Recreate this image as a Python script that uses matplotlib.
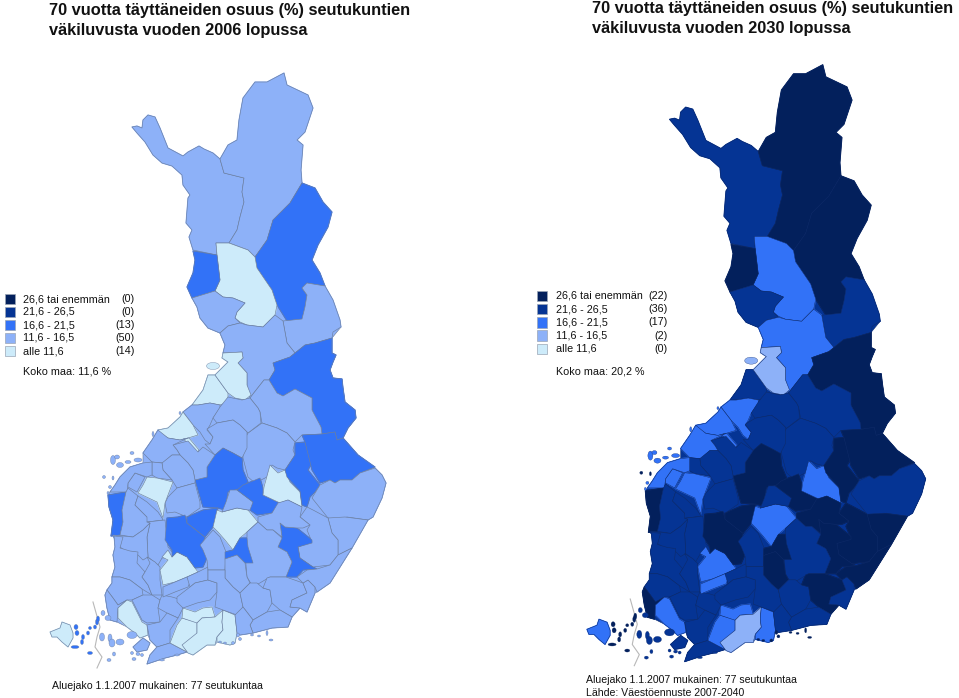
import matplotlib
matplotlib.use("Agg")
import matplotlib.pyplot as plt
from matplotlib.collections import PolyCollection
from matplotlib.colors import ListedColormap, BoundaryNorm
from matplotlib.patches import Ellipse, Rectangle, Polygon
from matplotlib.transforms import Affine2D

plt.rcParams['font.family'] = ['Liberation Sans', 'DejaVu Sans']

# ---- data ----
titles_2006 = ["70 vuotta täyttäneiden osuus (%) seutukuntien", "väkiluvusta vuoden 2006 lopussa"]
titles_2030 = ["70 vuotta täyttäneiden osuus (%) seutukuntien", "väkiluvusta vuoden 2030 lopussa"]
legend_labels = ["26,6 tai enemmän", "21,6 - 26,5", "16,6 - 21,5", "11,6 - 16,5", "alle 11,6"]
counts_2006 = [0, 0, 13, 50, 14]
counts_2030 = [22, 36, 17, 2, 0]
national_2006 = "Koko maa: 11,6 %"
national_2030 = "Koko maa: 20,2 %"
note_2006 = ["Aluejako 1.1.2007 mukainen: 77 seutukuntaa"]
note_2030 = ["Aluejako 1.1.2007 mukainen: 77 seutukuntaa", "Lähde: Väestöennuste 2007-2040"]
class_bounds = [0, 11.55, 16.55, 21.55, 26.55, 40]
class_colors = ['#CDEBFA', '#8DB1F8', '#3272F7', '#053494', '#03205C']

# southern mainland silhouette under the regions
mainland = [(192,298),(197,307),(200,318),(208,328),(220,333),(225,345),(223,353),(222,358),(228,362),(222,368),(215,375),(208,375),(203,390),(192,405),(183,412),(180,417),(168,428),(158,430),(152,440),(143,453),(143,463),(130,467),(120,477),(115,485),(110,492),(108,495),(109,507),(113,520),(111,536),(114,536),(115,547),(113,555),(115,567),(112,577),(112,583),(107,590),(105,595),(107,608),(110,620),(117,622),(127,627),(135,633),(140,638),(148,635),(150,640),(157,647),(150,655),(147,664),(153,662),(165,658),(177,655),(187,652),(193,655),(207,645),(215,645),(217,642),(230,645),(235,643),(237,633),(240,635),(253,633),(272,628),(288,627),(292,617),(300,608),(307,612),(315,593),(317,592),(330,583),(352,548),(368,520),(373,517),(382,498),(386,483),(382,475),(375,468),(358,455),(343,438),(348,428),(356,418),(355,410),(345,402),(343,388),(342,379),(333,378),(330,370),(333,362),(336,355),(332,353),(332,338),(341,327),(325,286)]

outlines = {
 'A': [(132,127),(137,126),(142,128),(143,120),(148,115),(155,117),(160,128),(168,148),(183,156),(188,152),(199,146),(204,149),(213,153),(220,159),(224,173),(244,178),(242,192),(244,202),(240,217),(237,230),(229,243),(216,243),(217,255),(193,250),(189,237),(192,230),(186,223),(188,198),(190,195),(183,185),(182,175),(172,166),(162,163),(153,155),(145,142),(137,133)],
 'B': [(220,159),(228,145),(237,140),(239,120),(243,98),(255,82),(267,82),(284,73),(287,85),(308,95),(313,108),(305,132),(297,140),(303,145),(301,170),(302,183),(290,203),(273,220),(267,240),(255,257),(248,250),(229,243),(237,230),(240,217),(244,202),(242,192),(244,178),(224,173)],
 'C': [(302,183),(315,188),(323,202),(332,212),(328,227),(318,245),(312,260),(320,273),(325,286),(307,283),(302,288),(307,295),(305,307),(302,319),(287,321),(277,305),(272,290),(257,268),(255,257),(267,240),(273,220),(290,203)],
 'D': [(216,243),(229,243),(248,250),(255,257),(257,268),(272,290),(277,305),(275,315),(263,327),(247,325),(240,322),(235,318),(237,312),(245,303),(233,298),(223,297),(215,291),(220,280),(217,255)],
 'E': [(193,251),(217,255),(220,280),(215,291),(192,298),(187,287),(193,273),(195,260)],
 'F': [(192,298),(215,291),(223,297),(233,298),(245,303),(237,312),(235,318),(240,323),(228,326),(220,333),(208,328),(200,318),(197,307)],
 'G': [(302,288),(307,283),(325,286),(333,300),(340,320),(341,327),(333,332),(332,338),(315,343),(305,345),(295,353),(287,343),(283,321),(302,319),(305,307),(307,295)],
 'H': [(220,333),(228,326),(240,323),(247,325),(263,327),(275,315),(283,321),(287,343),(295,353),(290,357),(273,363),(275,370),(269,380),(264,380),(253,394),(250,398),(247,385),(247,373),(238,363),(243,358),(242,352),(223,353),(225,345)],
 'I': [(295,353),(305,345),(315,343),(332,338),(332,353),(336,355),(333,362),(330,370),(333,378),(342,379),(343,388),(345,402),(355,410),(356,418),(348,428),(343,438),(337,440),(335,432),(322,434),(321,427),(312,410),(312,398),(295,389),(283,396),(277,393),(269,380),(275,370),(273,363),(290,357)],
 'J': [(269,380),(277,393),(283,396),(295,389),(312,398),(312,410),(321,427),(322,434),(302,435),(295,442),(287,433),(277,428),(262,423),(260,412),(258,408),(250,398),(253,394),(264,380)],
 'K': [(262,423),(277,428),(287,433),(295,442),(293,450),(295,455),(285,470),(277,468),(272,465),(267,477),(255,483),(248,477),(243,458),(243,442),(248,433)],
 'L1': [(192,405),(203,390),(208,375),(215,375),(228,393),(228,402),(220,405),(210,403),(198,405)],
 'L2': [(223,353),(242,352),(243,358),(238,363),(247,373),(247,385),(251,395),(245,400),(235,398),(228,393),(215,375),(222,368),(228,362),(222,358)],
 'M': [(183,412),(192,405),(198,405),(210,403),(220,405),(220,408),(213,418),(210,425),(207,430),(213,437),(210,444),(205,440),(200,432),(193,425)],
 'N': [(158,430),(168,428),(180,417),(183,412),(193,425),(198,435),(188,438),(180,440),(168,438),(160,433)],
 'N2': [(183,439),(189,438),(199,450),(197,453),(188,443)],
 'O': [(220,407),(228,397),(242,400),(250,398),(258,408),(260,412),(261,423),(248,433),(247,432),(240,425),(233,420),(217,423),(213,418)],
 'P': [(217,423),(233,420),(240,425),(247,432),(247,448),(242,458),(233,453),(223,448),(215,455),(205,444),(210,444),(213,437),(207,429)],
 'Q': [(215,455),(223,448),(233,453),(242,458),(243,470),(248,482),(242,488),(228,492),(225,510),(218,508),(203,507),(195,480),(207,477),(207,467)],
 'R': [(173,445),(188,441),(198,452),(203,447),(215,455),(207,467),(207,477),(195,480),(193,470),(188,463),(180,455),(177,450)],
 'S': [(158,430),(168,438),(180,440),(188,438),(173,445),(177,450),(180,455),(172,455),(163,463),(152,462),(143,453),(152,440)],
 'T': [(172,455),(180,455),(188,463),(193,470),(195,480),(195,483),(177,488),(172,480),(163,470),(162,463)],
 'U': [(152,462),(162,463),(163,470),(172,480),(157,478),(152,475)],
 'V': [(177,488),(195,483),(200,502),(200,508),(187,517),(175,512),(167,513),(165,503),(168,497)],
 'W': [(147,477),(157,478),(173,482),(168,495),(165,503),(163,518),(157,502),(138,493),(143,485)],
 'X': [(135,473),(145,477),(137,492),(128,487),(128,483)],
 'Y': [(120,477),(130,467),(143,463),(152,462),(152,475),(147,477),(135,473),(128,483),(127,492),(115,492),(110,492),(115,485)],
 'Z': [(108,495),(126,492),(122,510),(123,522),(120,535),(111,536),(113,520),(109,507)],
 'AA': [(126,492),(122,510),(123,522),(120,535),(133,537),(143,530),(150,523),(147,517),(135,505),(138,496),(128,488)],
 'AB': [(138,496),(147,502),(158,512),(162,518),(163,520),(147,522),(147,517),(135,505)],
 'AC': [(147,522),(165,520),(168,547),(173,553),(172,558),(162,558),(158,565),(148,557),(147,537),(150,523)],
 'AD': [(113,535),(133,537),(143,530),(150,523),(147,537),(148,557),(143,560),(135,552),(127,552),(120,547),(113,536)],
 'a1': [(114,536),(123,537),(120,548),(130,551),(138,552),(137,563),(145,572),(142,577),(148,585),(152,595),(142,589),(130,580),(120,577),(112,577),(115,567),(113,555),(115,547)],
 'a2': [(147,557),(155,562),(160,567),(160,580),(162,595),(152,595),(148,585),(142,577),(145,572),(150,563)],
 'a3': [(112,577),(120,577),(130,580),(142,589),(143,595),(132,600),(127,600),(118,605),(113,598),(107,590),(112,583)],
 'a4': [(105,595),(107,608),(110,620),(117,622),(118,608),(127,600),(118,605),(113,598),(107,590)],
 'a5': [(127,600),(132,602),(142,622),(147,625),(148,635),(140,638),(135,633),(127,627),(118,618),(118,608)],
 'a6': [(132,600),(143,595),(152,595),(160,600),(158,608),(160,622),(147,623),(142,620)],
 'a7': [(162,595),(160,600),(158,608),(167,613),(178,618),(183,608),(182,600),(172,597)],
 'a8': [(160,622),(167,613),(178,618),(170,630),(170,643),(157,647),(150,640),(147,625)],
 'a9': [(157,647),(170,643),(187,652),(177,655),(165,658),(153,662),(147,664),(150,655)],
 'isle': [(133,647),(143,638),(150,643),(147,650),(137,652)],
 'a10': [(170,643),(177,625),(182,618),(197,622),(197,637),(183,645),(187,652)],
 'strip': [(183,608),(195,612),(203,608),(212,607),(215,617),(202,618),(197,623),(182,618)],
 'mid': [(197,623),(202,618),(215,617),(223,610),(222,622),(223,630),(217,637),(215,645),(207,645),(193,655),(188,653),(182,645),(197,633)],
 'right': [(223,610),(235,615),(237,633),(235,643),(230,645),(217,642),(217,637),(223,630),(222,622)],
 'b1': [(162,557),(168,550),(172,557),(177,552),(187,557),(198,572),(187,577),(175,582),(163,585),(160,570),(168,560)],
 'b2': [(163,587),(175,582),(187,577),(190,582),(188,587),(175,592),(163,597)],
 'b3': [(187,577),(198,572),(208,567),(208,580),(195,583),(190,587)],
 'b4': [(177,597),(190,587),(195,583),(208,580),(217,583),(217,592),(210,600),(197,603),(183,608),(177,602)],
 'b5': [(167,518),(178,517),(185,515),(187,523),(205,537),(202,547),(207,558),(203,567),(195,568),(187,557),(177,552),(172,557),(172,550),(165,540)],
 'b6': [(187,517),(203,510),(218,508),(213,527),(205,537),(187,523)],
 'b7': [(200,545),(213,530),(220,537),(226,552),(225,570),(208,570),(207,560),(203,550)],
 'b8': [(213,527),(217,510),(222,512),(237,508),(248,510),(258,522),(247,532),(240,538),(233,550),(225,540),(218,532)],
 'b9': [(226,502),(230,490),(237,490),(253,502),(253,510),(248,510),(237,508),(222,512)],
 'b10': [(243,485),(260,478),(263,488),(263,495),(280,503),(272,513),(257,515),(250,510),(253,502),(237,490)],
 'b11': [(264,487),(270,465),(278,473),(285,470),(290,482),(300,492),(302,507),(288,500),(280,503),(263,495)],
 'b12': [(295,443),(305,442),(312,463),(308,470),(320,485),(315,492),(310,497),(307,507),(302,505),(300,491),(287,477),(285,470),(295,455)],
 'b13': [(302,435),(322,434),(335,432),(337,440),(343,438),(358,455),(375,467),(360,473),(352,480),(340,480),(335,483),(330,480),(320,483),(312,470),(309,458),(305,442)],
 'b14': [(375,468),(382,475),(386,483),(382,498),(373,517),(368,520),(347,517),(338,520),(328,518),(320,508),(312,498),(320,485),(330,480),(335,483),(340,480),(352,480),(360,473)],
 'b15': [(328,518),(345,517),(368,520),(352,548),(338,555),(338,540),(332,533)],
 'b16': [(307,507),(313,510),(328,518),(332,533),(338,540),(338,555),(330,565),(313,567),(300,558),(298,547),(312,542),(307,530),(310,525),(300,517)],
 'b17': [(280,523),(285,527),(297,528),(312,540),(312,543),(298,547),(300,558),(313,567),(317,569),(303,570),(297,577),(286,577),(292,562),(287,552),(278,547),(282,537)],
 'b18': [(258,517),(272,513),(278,503),(288,500),(302,507),(300,517),(310,525),(303,528),(297,528),(285,527),(280,523),(282,537),(273,530),(267,530),(258,522)],
 'b19': [(258,522),(267,530),(273,530),(282,538),(278,547),(287,552),(292,562),(286,577),(270,577),(253,587),(247,577),(245,553),(247,537),(247,532)],
 'b20': [(225,552),(233,550),(240,538),(247,538),(248,547),(253,563),(245,563),(237,555),(225,559)],
 'b21': [(225,559),(237,555),(245,563),(247,577),(250,583),(240,593),(233,587),(225,578)],
 'b22': [(208,570),(225,570),(225,578),(233,587),(240,593),(243,607),(237,615),(223,610),(215,607),(217,592),(217,583),(208,580)],
 'b23': [(240,593),(250,583),(257,583),(263,588),(270,590),(272,603),(267,612),(253,620),(243,607)],
 'b24': [(267,578),(270,577),(286,577),(303,583),(307,593),(292,600),(290,607),(300,608),(292,617),(280,610),(272,603),(270,590),(263,588)],
 'b25': [(303,583),(308,580),(315,587),(315,593),(307,612),(300,608),(290,607),(292,600),(307,593)],
 'b26': [(307,570),(317,569),(330,565),(338,555),(352,548),(330,583),(317,592),(315,587),(308,580),(303,583),(297,577)],
 'b27': [(267,612),(280,610),(292,617),(288,627),(272,628),(253,633),(250,625),(253,620)],
 'b28': [(235,615),(243,607),(253,620),(250,625),(253,633),(240,635),(237,633)],
 'aland': [(50,632),(60,628),(62,622),(70,625),(73,633),(73,638),(68,647),(62,642),(57,637),(52,637)],
}

# share of people aged 70+ per region, estimated from each region's class
low_2006 = ['D','L1','L2','N','N2','W','a5','a10','strip','mid','right','b1','b8','b11','aland']
high_2006 = ['C','E','I','Q','Z','b5','b6','b10','b12','b13','b17','b20']
share_2006 = {k: (10.5 if k in low_2006 else 19.0 if k in high_2006 else 14.0) for k in outlines}

class1_2030 = ['L2','mid']
class2_2030 = ['D','H','M','N','N2','S','W','X','Y','a5','a10','strip','right','b1','b2','b8','b11','aland']
class4_2030 = ['B','C','E','I','Z','a4','Q','b5','b6','b10','b12','b13','b15','b16','b17','b18','b20','b21','b24','b26']
share_2030 = {k: (14.0 if k in class1_2030 else 19.0 if k in class2_2030 else 28.0 if k in class4_2030 else 24.0) for k in outlines}

# small islands: centre, width, height, share in 2006 and 2030
isle_x = [76,77,75,82,83,88,90,95,97,98,90, 103,108,102,110,112,120,132,114,109,134,138,132,142,162,177, 238,240,252,259,267,271,220,225,233, 113,120,117,128,138,132,104,113,110,108,153,180,213]
isle_y = [627,633,647,642,637,633,628,627,622,619,653, 613,618,637,638,643,642,635,654,660,659,654,653,655,660,655, 635,639,635,636,633,640,642,643,643, 460,465,457,462,460,453,477,478,487,493,434,413,366]
isle_w = [4,4,8,3,3,3,3,3,3,3,5, 4,6,5,4,6,8,10,3,4,4,4,3,3,5,5, 3,3,3,3,2,4,3,3,3, 5,7,5,6,8,4,3,2,3,2,2,2,13]
isle_h = [5,5,3,5,5,4,3,4,6,6,3, 5,5,8,8,8,6,7,4,3,3,3,3,3,2,2, 4,3,2,2,5,2,2,2,3, 9,5,4,3,4,3,3,4,3,3,5,3,7]
isle_2006 = [19]*11 + [14]*15 + [14]*9 + [14]*12 + [10.5]
isle_2030 = [28]*11 + [24]*15 + [28]*9 + [19]*6 + [28]*2 + [19]*4 + [14]

border_x = [93,100,97,95,102,97]
border_y = [602,627,637,647,657,668]
base_share_2006 = 14.0
base_share_2030 = 24.0

# ---- figure ----
fig = plt.figure(figsize=(9.59, 6.98), dpi=100)
ax = fig.add_axes([0, 0, 1, 1])
ax.set_xlim(0, 959)
ax.set_ylim(698, 0)
ax.axis('off')
cmap = ListedColormap(class_colors)
norm = BoundaryNorm(class_bounds, cmap.N)


def draw_map(share, isles, base, tf, edge, lw):
    trans = tf + ax.transData
    ax.plot(border_x, border_y, color='#B8B8B8', lw=0.8, transform=trans, zorder=1)
    ax.add_patch(Polygon(mainland, closed=True, facecolor=cmap(norm(base)), edgecolor=edge,
                         linewidth=lw, transform=trans, zorder=1.5))
    names = list(outlines)
    vals = [share[k] for k in names]
    under = PolyCollection([outlines[k] for k in names], facecolors=cmap(norm(vals)),
                           edgecolors=cmap(norm(vals)), linewidths=0.8, transform=trans, zorder=2)
    ax.add_collection(under)
    top = PolyCollection([outlines[k] for k in names], array=vals, cmap=cmap, norm=norm,
                         edgecolors=edge, linewidths=lw, transform=trans, zorder=3)
    ax.add_collection(top)
    for x, y, w, h, v in zip(isle_x, isle_y, isle_w, isle_h, isles):
        ax.add_patch(Ellipse((x, y), w, h, facecolor=cmap(norm(v)), edgecolor=edge,
                             linewidth=lw * 0.6, transform=trans, zorder=4))


def draw_legend(sx, ty, step, tx, cx, ky, counts, national):
    for i, (lab, c) in enumerate(zip(legend_labels, counts)):
        y = ty + i * step
        ax.add_patch(Rectangle((sx, y - 5.2), 10, 10.4, facecolor=class_colors[4 - i],
                               edgecolor='#9AA5B5', linewidth=0.5))
        ax.text(tx, y, lab, fontsize=FS, va='center', ha='left', color='#111111')
        ax.text(cx, y, f"({c})", fontsize=FS, va='center', ha='right', color='#111111')
    ax.text(tx, ky, national, fontsize=FS, va='center', ha='left', color='#111111')


FS = 7.75
TS = 11.75
NS = 7.55
draw_map(share_2006, isle_2006, base_share_2006, Affine2D(), '#6C7FA0', 0.45)
draw_map(share_2030, isle_2030, base_share_2030, Affine2D().scale(1.008, 1.01).translate(536.5, -9), '#0E2A68', 0.35)
draw_legend(5, 299, 13.0, 23.3, 135, 371, counts_2006, national_2006)
draw_legend(536.5, 296, 13.2, 555.5, 667.5, 372, counts_2030, national_2030)

for y, s in zip([11, 30], titles_2006):
    ax.text(49, y, s, fontsize=TS, fontweight='bold', va='center', ha='left', color='#111111')
for y, s in zip([8, 29], titles_2030):
    ax.text(592, y, s, fontsize=TS, fontweight='bold', va='center', ha='left', color='#111111')
for y, s in zip([686], note_2006):
    ax.text(52, y, s, fontsize=NS, va='center', ha='left', color='#111111')
for y, s in zip([680, 693], note_2030):
    ax.text(586, y, s, fontsize=NS, va='center', ha='left', color='#111111')

fig.savefig('out.png', dpi=100)
